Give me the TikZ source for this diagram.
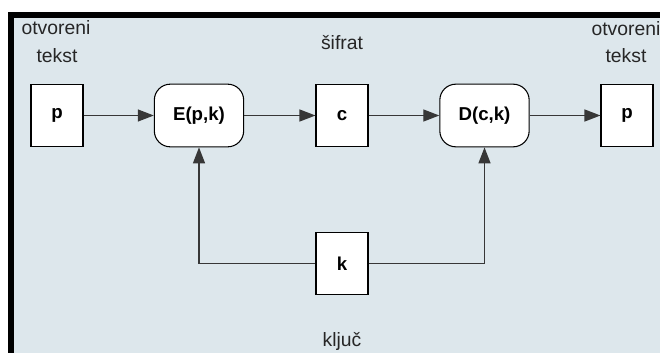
\documentclass[tikz,border=0pt]{standalone}
\usepackage{fontspec}
\setmainfont{Liberation Sans}
\usetikzlibrary{arrows.meta}
\definecolor{bgblue}{RGB}{221,231,236}
\definecolor{linegray}{RGB}{55,55,55}
\begin{document}
\begin{tikzpicture}[x=0.75pt,y=-0.75pt,
  sqbox/.style={draw=black,fill=white,line width=0.8pt,minimum width=39pt,minimum height=47pt,inner sep=0pt,font=\fontsize{14}{16}\selectfont\bfseries},
  rbox/.style={draw=black,fill=white,line width=0.8pt,rounded corners=12pt,minimum width=67pt,minimum height=47pt,inner sep=0pt,font=\fontsize{14}{16}\selectfont\bfseries},
  conn/.style={draw=linegray,line width=1pt},
  arr/.style={conn,-{Triangle[length=12pt,width=9pt]}},
  lbl/.style={font=\fontsize{14.5}{17}\selectfont,anchor=base,inner sep=0pt,text=black!85}
]
\useasboundingbox (0,0) rectangle (660,353);
\fill[white] (0,0) rectangle (660,353);
\fill[bgblue] (13,17) rectangle (660,353);
\fill[black] (8,12) rectangle (660,18);
\fill[black] (8,12) rectangle (14,353);

\node[sqbox] (p1) at (57,115.5) {p};
\node[rbox] (E) at (199,115.5) {E(p,k)};
\node[sqbox] (c) at (342,115.5) {c};
\node[rbox] (D) at (484.5,115.5) {D(c,k)};
\node[sqbox] (p2) at (627,115.5) {p};
\node[sqbox] (k) at (342,263.5) {k};

\draw[arr] (p1) -- (E);
\draw[arr] (E) -- (c);
\draw[arr] (c) -- (D);
\draw[arr] (D) -- (p2);
\draw[arr] (k.west) -| (E.south);
\draw[arr] (k.east) -| (D.south);

\node[lbl] (t1) at (56,35) {otvoreni};
\node[lbl] (t2) at (57,63) {tekst};
\node[lbl] (t3) at (342,50) {šifrat};
\node[lbl] (t4) at (626,36) {otvoreni};
\node[lbl] (t5) at (626,63) {tekst};
\node[lbl] (t6) at (342,346) {ključ};
\end{tikzpicture}
\end{document}
